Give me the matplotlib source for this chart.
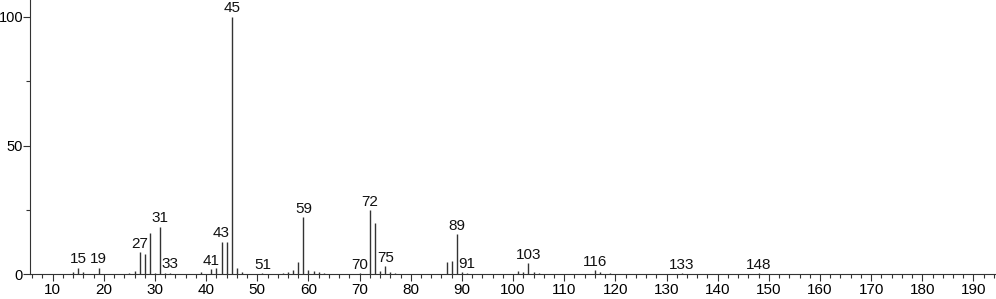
import matplotlib
import matplotlib.pyplot as plt
from matplotlib.ticker import MultipleLocator

matplotlib.use('Agg')

# m/z and relative intensity
mz = [14, 15, 16, 19, 25, 26, 27, 28, 29, 30, 31, 32, 33, 39, 41, 42, 43, 44, 45, 46,
      47, 51, 55, 56, 57, 58, 59, 60, 61, 62, 63, 70, 72, 73, 74, 75, 76, 77, 87, 88,
      89, 90, 91, 101, 102, 103, 104, 105, 116, 117, 119, 133, 148]
intensity = [0.8, 2.6, 0.8, 2.6, 0.5, 1.2, 8.5, 7.9, 16.1, 0.6, 18.5, 0.5, 0.6, 0.7, 2.1, 2.3,
             12.7, 12.7, 100, 2.6, 0.8, 0.5, 0.5, 0.7, 1.7, 4.8, 22.2, 1.7, 1.3, 0.8, 0.6,
             0.5, 25.0, 19.8, 1.3, 3.2, 0.9, 0.6, 4.7, 5.2, 15.5, 0.7, 0.6, 1.3, 1.0, 4.3,
             0.8, 0.6, 1.7, 0.8, 0.5, 0.5, 0.5]
labelled = [15, 19, 27, 31, 33, 41, 43, 45, 51, 59, 70, 72, 75, 89, 91, 103, 116, 133, 148]


def plot():
    plt.rcParams['font.family'] = ['Liberation Sans', 'DejaVu Sans']
    fig = plt.figure(figsize=(9.96, 2.99), dpi=100)
    ax = fig.add_axes([30 / 996, 24.7 / 299, 966 / 996, 274.3 / 299])

    ax.vlines(mz, 0, intensity, color='#333333', linewidth=1.0)

    for m, v in zip(mz, intensity):
        if m in labelled:
            ax.annotate(str(m), (m, v), xytext=(0, 1), textcoords='offset points',
                        ha='center', va='bottom', fontsize=11, color='#111111')

    ax.set_xlim(5.56, 194.4)
    ax.set_ylim(0, 106.5)

    ax.spines['top'].set_visible(False)
    ax.spines['right'].set_visible(False)
    ax.spines['left'].set_color('#333333')
    ax.spines['bottom'].set_color('#333333')

    ax.xaxis.set_major_locator(MultipleLocator(10))
    ax.xaxis.set_minor_locator(MultipleLocator(2))
    ax.set_xticks(range(10, 200, 10))
    ax.yaxis.set_major_locator(MultipleLocator(50))
    ax.yaxis.set_minor_locator(MultipleLocator(25))

    ax.tick_params(which='major', length=5, width=0.8, color='#333333', pad=1)
    ax.tick_params(which='minor', length=3, width=0.8, color='#333333')
    ax.tick_params(axis='x', labelsize=11)
    ax.tick_params(axis='y', labelsize=10.5, pad=0)

    fig.savefig('out.png', dpi=100)


if __name__ == '__main__':
    plot()
